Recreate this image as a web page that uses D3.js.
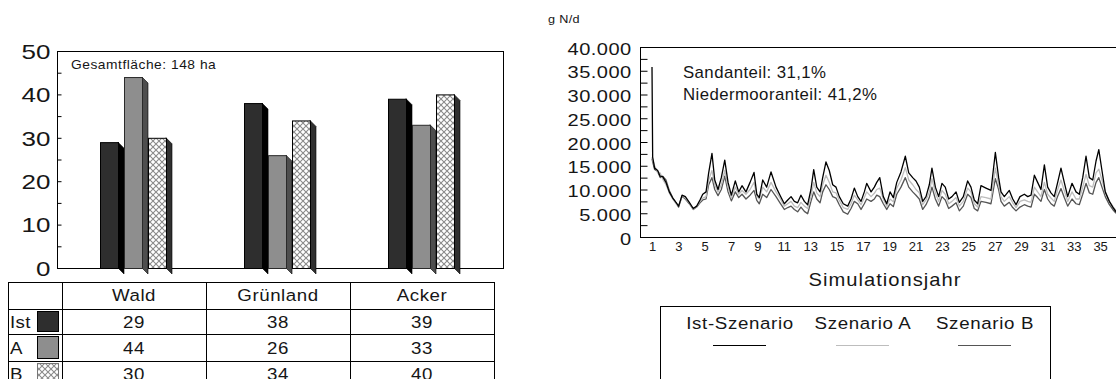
<!DOCTYPE html>
<html><head><meta charset="utf-8">
<script src="https://cdn.jsdelivr.net/npm/d3@7/dist/d3.min.js"></script>
<style>
html,body{margin:0;padding:0;background:#fff;}
svg{display:block;font-family:"Liberation Sans",Arial,sans-serif;}
</style></head>
<body>
<svg id="c" width="1116" height="379"></svg>
<script>
// ---------- Left chart data ----------
const categories = ["Wald", "Grünland", "Acker"];
const seriesNames = ["Ist", "A", "B"];
const valIst = [29, 38, 39];
const valA = [44, 26, 33];
const valB = [30, 34, 40];
const leftTicks = [0, 5, 10, 15, 20, 25, 30, 35, 40, 45, 50];
const noteLeft = "Gesamtfläche: 148 ha";

// ---------- Right chart data ----------
const years = [
 1.00,1.05,1.20,1.43,1.62,1.81,2.06,2.31,2.57,2.82,
 3.02,3.28,3.53,3.83,4.13,4.39,4.64,4.85,5.10,5.30,
 5.55,5.76,6.01,6.26,6.52,6.77,7.02,7.32,7.58,7.83,
 8.13,8.44,8.74,8.95,9.14,9.40,9.70,10.03,10.41,10.71,
 11.04,11.30,11.55,11.80,12.05,12.30,12.56,12.81,13.06,13.27,
 13.50,13.75,13.95,14.20,14.45,14.71,14.96,15.21,15.51,15.85,
 16.10,16.35,16.61,16.86,17.11,17.29,17.62,17.87,18.05,18.28,
 18.55,18.81,19.06,19.31,19.57,19.89,20.22,20.48,20.78,21.03,
 21.28,21.54,21.79,22.04,22.24,22.50,22.75,23.00,23.25,23.51,
 23.76,24.07,24.32,24.62,24.95,25.20,25.45,25.71,25.96,26.34,
 26.72,27.05,27.30,27.48,27.73,28.11,28.37,28.62,28.92,29.25,
 29.51,29.76,30.01,30.26,30.51,30.77,31.02,31.27,31.52,31.78,
 32.03,32.28,32.54,32.87,33.17,33.42,33.68,33.93,34.18,34.44,
 34.69,34.90,35.14,35.39,35.70,35.96,36.21];
const istSzenario = [
 35800,16800,14500,14000,12800,12700,11500,9500,8200,7300,
 6500,8800,8500,7300,6000,6500,7800,9000,9500,13500,
 17600,12000,10000,12500,16200,11500,8800,11800,9500,10800,
 9500,11500,13600,9000,8300,12000,10500,13700,10500,8800,
 7000,7800,8500,7500,7200,8800,7500,6800,10000,14200,
 10500,9500,12500,15800,14000,11000,10500,8500,7000,6500,
 8000,10300,8500,7500,9500,11300,9500,10500,11500,12500,
 8500,7000,9500,8300,11500,13700,17000,13500,12500,11800,
 10500,7500,8500,11000,14500,10500,8500,11300,10500,8000,
 8500,9500,7300,8500,11800,10500,7800,7000,10800,10300,
 9800,17800,12500,9500,8500,9800,8000,6800,8500,9000,
 8500,8800,13000,11500,10000,15200,10500,9300,8500,11500,
 14500,11500,8500,11300,9500,9000,12500,17000,12500,12000,
 16000,18400,14000,9500,7500,6300,5300];
const szenarioA = [
 16800,16200,15000,13500,13500,12200,11000,9300,8000,7000,
 6600,8700,8200,7200,5900,6400,7500,8200,8500,12000,
 14000,11000,9500,11000,14000,10500,8200,10500,9000,9800,
 9000,10000,11500,8600,8000,10500,9500,11500,9500,8200,
 6500,7000,7500,6500,6200,7300,6500,6000,8500,11500,
 9300,8500,11000,13000,11500,9500,9300,7700,6200,5800,
 7000,8800,7800,6800,8300,9500,8500,9200,10000,10300,
 8000,6500,8000,7400,10300,12000,14600,12000,11000,10000,
 9300,6800,7800,9500,12300,9300,7500,9800,9000,7000,
 7500,8300,6500,7500,10300,9500,7000,6300,8500,8300,
 8000,14500,11000,8500,7500,8500,7200,6200,7500,7800,
 7500,7300,10500,9500,8500,11500,9000,8200,7500,10000,
 12000,9800,7500,9500,8000,8000,10500,13200,10800,10500,
 13500,14300,12000,9500,7500,6500,5500];
const szenarioB = [
 16500,15800,14200,13800,12500,12800,12000,9800,8300,7200,
 6300,8600,8000,7000,5800,6300,7200,7800,8000,11000,
 12500,10000,8700,10000,12800,9500,7600,9500,8300,9000,
 8000,8800,9800,7700,7000,9000,8300,10000,8500,7200,
 5800,6200,6500,5800,5300,6300,5400,4900,7500,9500,
 8000,7200,9500,11000,10000,8500,8200,6800,5300,4800,
 6000,7500,7000,5800,7000,8000,7500,8000,8800,8500,
 7000,5800,7000,6400,9000,10500,12500,10500,9500,8800,
 8000,5800,6800,8300,10500,8000,6500,8500,7800,6000,
 6500,7200,5500,6500,9000,8300,6000,5500,7500,7300,
 7000,12300,10000,7500,6500,7300,6200,5500,6300,6800,
 6500,6300,9000,8300,7500,10000,8000,7000,6500,8600,
 10200,8300,6500,8000,7000,6800,9000,11300,9300,9000,
 11500,12500,10500,8500,6800,5800,5000];
const rightYTicks = [0,2500,5000,7500,10000,12500,15000,17500,20000,22500,25000,27500,30000,32500,35000,37500,40000];
const rightXTicks = [1,3,5,7,9,11,13,15,17,19,21,23,25,27,29,31,33,35];
const legendNames = ["Ist-Szenario", "Szenario A", "Szenario B"];
const unitLabel = "g N/d";
const xTitle = "Simulationsjahr";
const notesRight = ["Sandanteil: 31,1%", "Niedermooranteil: 41,2%"];

// ---------- drawing ----------
const svg = d3.select("#c");
svg.append("rect").attr("width",1116).attr("height",379).attr("fill","#fff");

const defs = svg.append("defs");
const pat = defs.append("pattern").attr("id","hatch").attr("patternUnits","userSpaceOnUse")
  .attr("width",6).attr("height",6);
pat.append("rect").attr("width",6).attr("height",6).attr("fill","#fff");
pat.append("path").attr("d","M0,0 L6,6 M6,0 L0,6").attr("stroke","#8a8a8a").attr("stroke-width",1.1).attr("fill","none");

const TXT = "#161616";
function txt(parent, x, y, s, size, anchor, sx, ls) {
  return parent.append("text")
    .attr("transform", `translate(${x},${y}) scale(${sx},1)`)
    .attr("text-anchor", anchor).attr("font-size", size)
    .attr("letter-spacing", ls || 0)
    .attr("fill", TXT).text(s);
}

// ===== LEFT CHART =====
const L = {x0:57, x1:503, y0:51, y1:268};
const yL = d3.scaleLinear().domain([0,50]).range([L.y1, L.y0]);
const xL = d3.scaleBand().domain(categories).range([62, 494]);
const xS = d3.scaleBand().domain(seriesNames).range([-34, 32]).paddingInner(0.25);
const depth = 6;
const fronts = {Ist:"#2e2e2e", A:"#8e8e8e", B:"url(#hatch)"};
const sides = {Ist:"#000000", A:"#4e4e4e", B:"#303030"};
const strokes = {Ist:"#000", A:"#2a2a2a", B:"#000"};
const valsBySeries = {Ist:valIst, A:valA, B:valB};

// box
svg.append("rect").attr("x",L.x0+0.5).attr("y",L.y0+0.5)
  .attr("width",L.x1-L.x0).attr("height",L.y1-L.y0)
  .attr("fill","none").attr("stroke","#000").attr("stroke-width",1);

// y axis (inside ticks)
const axL = svg.append("g").attr("transform",`translate(${L.x0+0.5},0)`)
  .call(d3.axisLeft(yL).tickValues(leftTicks).tickSize(-4).tickPadding(5.4)
    .tickFormat(d => d % 10 === 0 ? d : ""));
axL.select(".domain").remove();
axL.selectAll("line").attr("stroke","#000");
axL.selectAll("text").attr("font-size",20).attr("font-family","Liberation Sans, Arial, sans-serif")
  .attr("fill",TXT).attr("transform","scale(1.3,1)").attr("dy","0.36em");

// bars
const bars = svg.append("g");
categories.forEach((cat, ci) => {
  seriesNames.forEach(s => {
    const v = valsBySeries[s][ci];
    const x = xL(cat) + xL.bandwidth()/2 + xS(s);
    const w = xS.bandwidth();
    const top = yL(v), base = yL(0);
    bars.append("polygon")
      .attr("points", [[x+w, top],[x+w+depth, top+depth],[x+w+depth, base+depth],[x+w, base]].map(p=>p.join(",")).join(" "))
      .attr("fill", sides[s]).attr("stroke","#000").attr("stroke-width",0.6);
    bars.append("rect").attr("x",x+0.5).attr("y",top+0.5).attr("width",w).attr("height",base-top)
      .attr("fill", fronts[s]).attr("stroke", strokes[s]).attr("stroke-width",1);
  });
});

txt(svg, 71, 69, noteLeft, 12, "start", 1.15, 0.45);

// table
const T = {x0:8, top:282, rows:[282,309,334,361,387]};
const tbl = svg.append("g");
const colEdges = [T.x0, ...categories.map(c => xL(c)), xL(categories[2]) + xL.bandwidth()];
colEdges.forEach(x => tbl.append("line").attr("x1",x+0.5).attr("x2",x+0.5).attr("y1",T.top).attr("y2",390).attr("stroke","#000"));
T.rows.forEach(y => tbl.append("line").attr("x1",T.x0).attr("x2",colEdges[4]+1).attr("y1",y+0.5).attr("y2",y+0.5).attr("stroke","#000"));
categories.forEach(c => txt(tbl, xL(c)+xL.bandwidth()/2, 301, c, 17, "middle", 1.1, 0.5));
seriesNames.forEach((s, si) => {
  const yTop = T.rows[si+1], yBot = T.rows[si+2];
  const yc = (yTop + yBot)/2;
  txt(tbl, 10, yc+6, s, 17, "start", 1.1, 0.3);
  tbl.append("rect").attr("x",37.5).attr("y",yTop+2.5).attr("width",21).attr("height",yBot-yTop-5)
    .attr("fill", fronts[s]).attr("stroke", s==="B" ? "#777" : "#000");
  categories.forEach((c, ci) => txt(tbl, xL(c)+xL.bandwidth()/2, yc+6, valsBySeries[s][ci], 17, "middle", 1.1, 0.5));
});

// ===== RIGHT CHART =====
const R = {x0:640, y0:47, y1:237};
const xR = d3.scaleLinear().domain([1, 37]).range([652, 652 + 36*13.18]);
const yR = d3.scaleLinear().domain([0, 40000]).range([R.y1, R.y0]);
const de = d3.formatLocale({decimal:",", thousands:".", grouping:[3], currency:["",""]});
const fmt = de.format(",");

svg.append("line").attr("x1",R.x0).attr("x2",1116).attr("y1",R.y0+0.5).attr("y2",R.y0+0.5).attr("stroke","#000");
svg.append("line").attr("x1",R.x0).attr("x2",1116).attr("y1",R.y1+0.5).attr("y2",R.y1+0.5).attr("stroke","#000");
svg.append("line").attr("x1",R.x0+0.5).attr("x2",R.x0+0.5).attr("y1",R.y0).attr("y2",R.y1+1).attr("stroke","#000");

const axR = svg.append("g").attr("transform",`translate(${R.x0+0.5},0)`)
  .call(d3.axisLeft(yR).tickValues(rightYTicks).tickSize(-7).tickPadding(7.5)
    .tickFormat(d => d % 5000 === 0 ? fmt(d) : ""));
axR.select(".domain").remove();
axR.selectAll("line").attr("stroke","#000");
axR.selectAll("text").attr("font-size",17).attr("font-family","Liberation Sans, Arial, sans-serif")
  .attr("fill",TXT).attr("transform","scale(1.18,1)").attr("letter-spacing",0.4).attr("dy","0.42em");

const axX = svg.append("g").attr("transform",`translate(0,${R.y1})`)
  .call(d3.axisBottom(xR).tickValues(rightXTicks).tickSize(0).tickPadding(5));
axX.select(".domain").remove();
axX.selectAll("text").attr("font-size",13).attr("font-family","Liberation Sans, Arial, sans-serif").attr("fill",TXT);

txt(svg, 885, 286, xTitle, 18, "middle", 1.12, 0.9);
txt(svg, 548, 23, unitLabel, 11, "start", 1.15, 0.3);
txt(svg, 683, 78, notesRight[0], 16, "start", 1.05, 0.4);
txt(svg, 683, 100, notesRight[1], 16, "start", 1.05, 0.4);

const lineColors = ["#000000", "#bdbdbd", "#555555"];
const seriesR = [istSzenario, szenarioA, szenarioB];
const line = d3.line().x((d,i) => xR(years[i])).y(d => yR(d));
const clip = defs.append("clipPath").attr("id","clipR");
clip.append("rect").attr("x",R.x0+1).attr("y",R.y0-20).attr("width",1116-R.x0).attr("height",R.y1-R.y0+20);
const lg = svg.append("g").attr("clip-path","url(#clipR)");
[2,1,0].forEach(k => {
  lg.append("path").datum(seriesR[k]).attr("d", line)
    .attr("fill","none").attr("stroke", lineColors[k]).attr("stroke-width",1.3).attr("stroke-linejoin","round");
});

// legend
svg.append("rect").attr("x",660.5).attr("y",306.5).attr("width",390).attr("height",120)
  .attr("fill","none").attr("stroke","#000");
const legX = [740, 863, 985];
legendNames.forEach((n, i) => {
  txt(svg, legX[i], 329, n, 17, "middle", 1.1, 0.6);
  svg.append("line").attr("x1",legX[i]-27).attr("x2",legX[i]+26).attr("y1",345.5).attr("y2",345.5)
    .attr("stroke", lineColors[i]).attr("stroke-width",1.2);
});
</script>
</body></html>
